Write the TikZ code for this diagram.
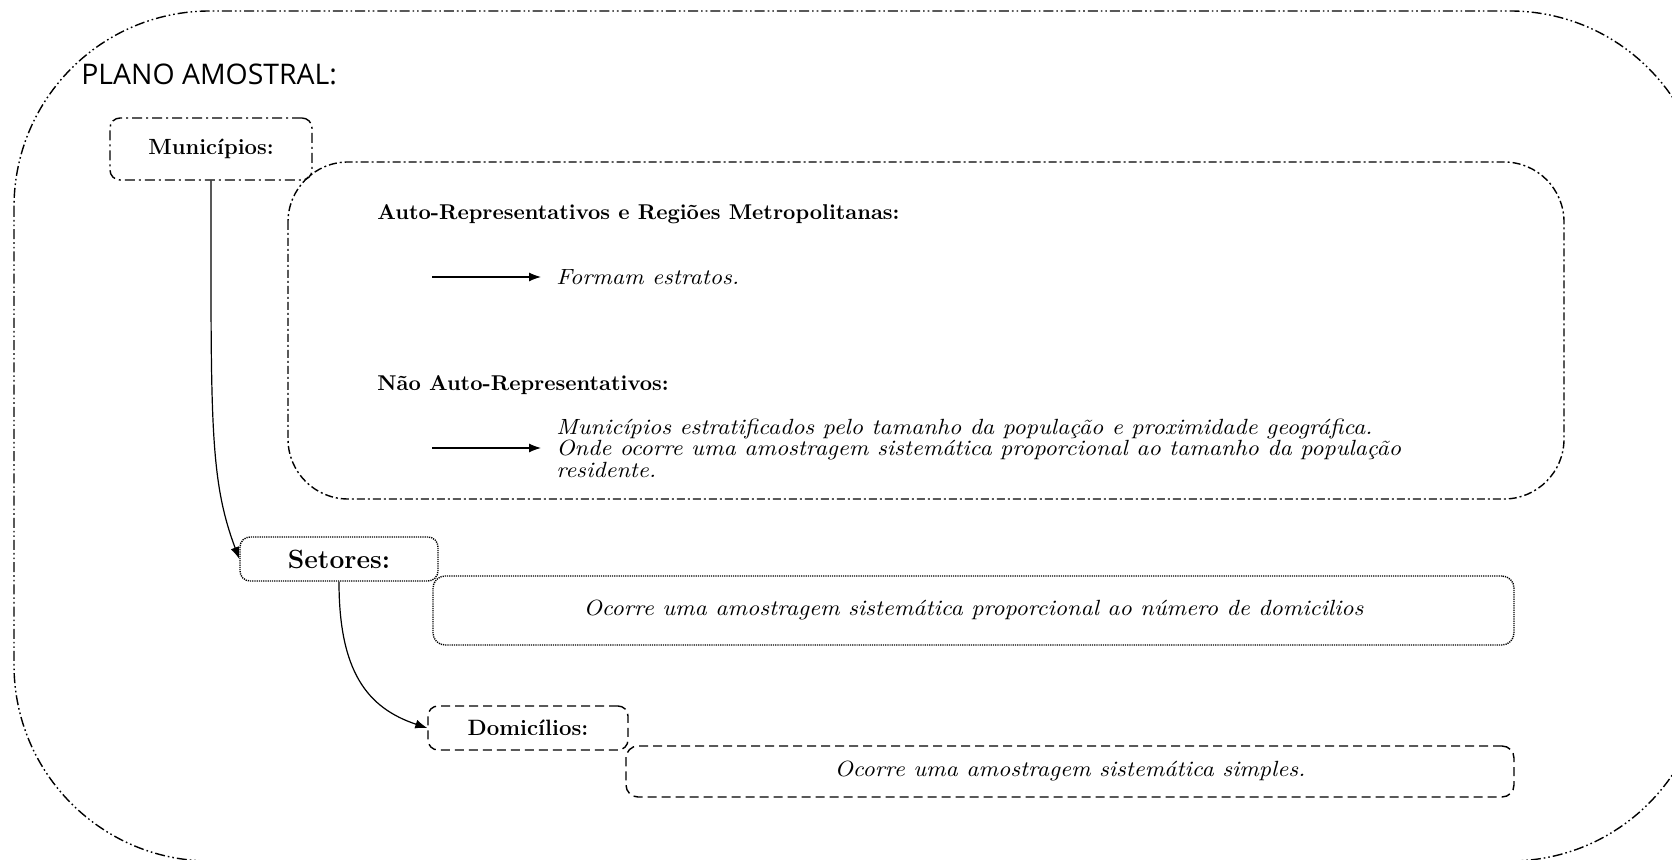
\documentclass[tikz,border=0pt]{standalone}
\usepackage{fontspec}
\newfontfamily\planofont{Open Sans}
\newfontfamily\italico{lmroman10-italic}[Extension=.otf, FakeStretch=1.085]
\usetikzlibrary{arrows.meta}

\begin{document}
\begin{tikzpicture}[x=0.5pt, y=-0.5pt,
    caixa/.style={draw, rounded corners=5pt, line width=0.7pt, inner sep=0pt},
    tracoponto/.style={dash pattern=on 5pt off 2pt on 1pt off 2pt},
    pontilhado/.style={dash pattern=on 0.6pt off 0.5pt},
    tracejado/.style={dash pattern=on 4.5pt off 2.5pt},
    titulo/.style={font=\bfseries\fontsize{10.7}{12}\selectfont, anchor=west, inner sep=0pt},
    texto/.style={font=\italico\fontsize{11}{10.75}\selectfont, inner sep=0pt},
    seta/.style={-{Latex[length=6pt, width=4.5pt]}, line width=0.6pt}]

        % Rahmen des Bildes
        \useasboundingbox (0,0) rectangle (1672,860);
        \clip (0,0) rectangle (1672,860);

        % aeusserer Rahmen
        \draw[line width=0.7pt, dash pattern=on 5pt off 1.5pt on 0.8pt off 1.5pt on 0.8pt off 1.5pt, rounded corners=98pt] (14,11) rectangle (1706,861);
        \node[anchor=west, inner sep=0pt, font=\planofont\fontsize{14.2}{16}\selectfont] (plano) at (81,74) {PLANO AMOSTRAL:};

        % Municipios
        \node[caixa, tracoponto, minimum width=101pt, minimum height=31pt, font=\bfseries\fontsize{11}{12}\selectfont] (mun) at (211,149) {Municípios:};

        % Box Auto-Representativos
        \draw[line width=0.7pt, dash pattern=on 4pt off 1.5pt on 1pt off 1.5pt, rounded corners=30pt] (288,162) rectangle (1564,499);
        \node[titulo] (auto) at (377,214) {Auto-Representativos e Regiões Metropolitanas:};
        \coordinate (s1) at (432,277);
        \node[texto, anchor=west, inner xsep=7.5pt] (form) at (541,277) {Formam estratos.};
        \draw[seta] (s1) -- (form.west);

        \node[titulo] (naoauto) at (377,385) {Não Auto-Representativos:};
        \coordinate (s2) at (432,448);
        \node[texto, anchor=west, align=left, inner xsep=7.5pt] (estrat) at (541,448) {Municípios estratificados pelo tamanho da população e proximidade geográfica.\\Onde ocorre uma amostragem sistemática proporcional ao tamanho da população\\residente.};
        \draw[seta] (s2) -- (estrat.west);

        % Setores
        \node[caixa, pontilhado, minimum width=99pt, minimum height=22pt, font=\bfseries\fontsize{13.2}{14}\selectfont] (set) at (339,559) {Setores:};
        \node[caixa, texto, pontilhado, rounded corners=6pt, minimum width=540.5pt, minimum height=34.5pt] (setdesc) at (973.5,610.5) {Ocorre uma amostragem sistemática proporcional ao número de domicilios};

        % Domicilios
        \node[caixa, tracejado, minimum width=100pt, minimum height=22pt, font=\bfseries\fontsize{11.1}{12}\selectfont] (dom) at (528,728) {Domicílios:};
        \node[caixa, texto, tracejado, rounded corners=6pt, minimum width=444pt, minimum height=25.5pt] (domdesc) at (1070,771.5) {Ocorre uma amostragem sistemática simples.};

        % Verbindungen
        \draw[seta] (mun.south) .. controls +(0,240) and +(-30,-80) .. (set.west);
        \draw[seta] (set.south) .. controls +(0,90) and +(-60,-20) .. (dom.west);

\end{tikzpicture}
\end{document}
